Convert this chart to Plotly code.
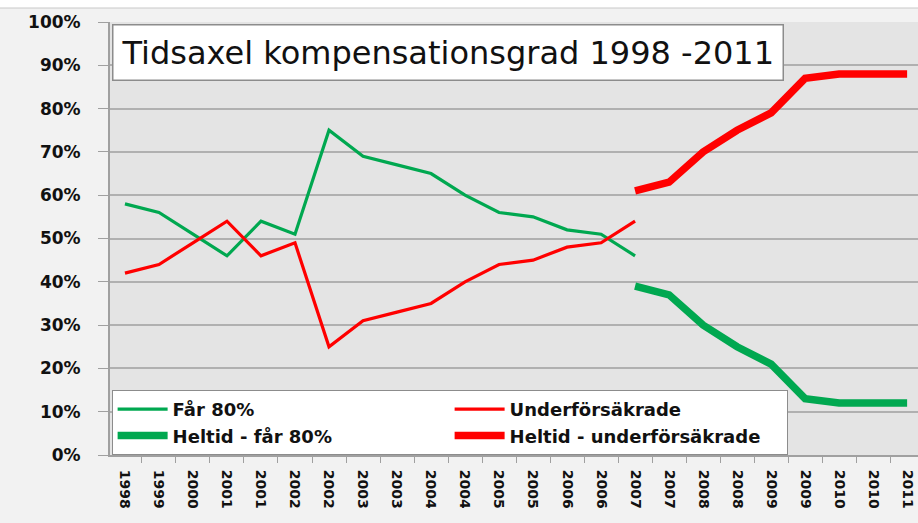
import plotly.graph_objects as go

labels = ["1998", "1999", "2000", "2001", "2001", "2002", "2002", "2003", "2003",
          "2004", "2004", "2005", "2005", "2006", "2006", "2007", "2007", "2008",
          "2008", "2009", "2009", "2010", "2010", "2011"]
far80 = [58, 56, 51, 46, 54, 51, 75, 69, 67, 65, 60, 56, 55, 52, 51, 46]
under = [42, 44, 49, 54, 46, 49, 25, 31, 33, 35, 40, 44, 45, 48, 49, 54]
heltid_far80 = [39, 37, 30, 25, 21, 13, 12, 12, 12]
heltid_under = [61, 63, 70, 75, 79, 87, 88, 88, 88]
yticks = [0, 10, 20, 30, 40, 50, 60, 70, 80, 90, 100]
ytick_text = ["0%", "10%", "20%", "30%", "40%", "50%", "60%", "70%", "80%", "90%", "100%"]
title_text = "Tidsaxel kompensationsgrad 1998 -2011"

GREEN = "#00a850"
RED = "#ff0000"

x_all = list(range(len(labels)))
x_thin = x_all[:len(far80)]
x_thick = x_all[len(far80) - 1:len(far80) - 1 + len(heltid_far80)]

fig = go.Figure()
fig.add_trace(go.Scatter(x=x_thin, y=far80, mode="lines", name="Får 80%",
                         line=dict(color=GREEN, width=3.2)))
fig.add_trace(go.Scatter(x=x_thin, y=under, mode="lines", name="Underförsäkrade",
                         line=dict(color=RED, width=3.2)))
fig.add_trace(go.Scatter(x=x_thick, y=heltid_far80, mode="lines", name="Heltid - får 80%",
                         line=dict(color=GREEN, width=7.5)))
fig.add_trace(go.Scatter(x=x_thick, y=heltid_under, mode="lines", name="Heltid - underförsäkrade",
                         line=dict(color=RED, width=7.5)))

AXC = "#a0a0a0"
fig.update_layout(
    width=918, height=523, autosize=False,
    margin=dict(l=110, r=0, t=22, b=68),
    paper_bgcolor="#f2f2f2",
    plot_bgcolor="#e4e4e4",
    font=dict(family="DejaVu Sans", color="#111111"),
    showlegend=True,
    legend=dict(orientation="h", x=0.002, y=0.0, xanchor="left", yanchor="bottom",
                bgcolor="white", bordercolor="#8c8c8c", borderwidth=1,
                entrywidth=272, entrywidthmode="pixels", itemwidth=50,
                font=dict(family="DejaVu Sans", size=18, weight="bold", color="#111111"),
                tracegroupgap=0),
    xaxis=dict(range=[-0.44, 23.32], tickmode="array", tickvals=x_all, ticktext=labels,
               tickangle=90, ticks="", showgrid=False, zeroline=False, automargin=False,
               showline=True, linecolor=AXC, linewidth=2,
               tickfont=dict(family="DejaVu Sans", size=14, weight="bold", color="#111111"),
               ticklabelstandoff=10,
               minor=dict(tickmode="linear", tick0=-0.5, dtick=1, ticks="outside",
                          ticklen=6, tickcolor=AXC, tickwidth=1, showgrid=False)),
    yaxis=dict(range=[0, 100], tickmode="array", tickvals=yticks, ticktext=ytick_text,
               showgrid=True, gridcolor="#b0b0b0", gridwidth=2, zeroline=False,
               showline=True, linecolor=AXC, linewidth=2, automargin=False,
               ticks="outside", ticklen=10, tickcolor=AXC, tickwidth=1,
               ticklabelstandoff=14,
               tickfont=dict(family="DejaVu Sans", size=17, weight="bold", color="#111111")),
)

fig.add_annotation(
    text=title_text, xref="paper", yref="paper", x=0, y=1, xanchor="left", yanchor="top",
    xshift=2, yshift=-2, showarrow=False, align="left",
    font=dict(family="DejaVu Sans", size=32, color="#111111"),
    bgcolor="white", bordercolor="#8c8c8c", borderwidth=1.5, borderpad=8,
)

# white strip at very top of the page
fig.add_shape(type="rect", xref="paper", yref="paper", x0=-0.2, x1=1.0,
              y0=1 + 14 / 433, y1=1 + 30 / 433, fillcolor="white", line=dict(width=0),
              layer="above")
fig.add_shape(type="line", xref="paper", yref="paper", x0=-0.2, x1=1.0,
              y0=1 + 14 / 433, y1=1 + 14 / 433, line=dict(color="#c8c8c8", width=1),
              layer="above")

fig.write_html("out.html", config={"displayModeBar": False},
               post_script="document.body.style.margin='0';")
